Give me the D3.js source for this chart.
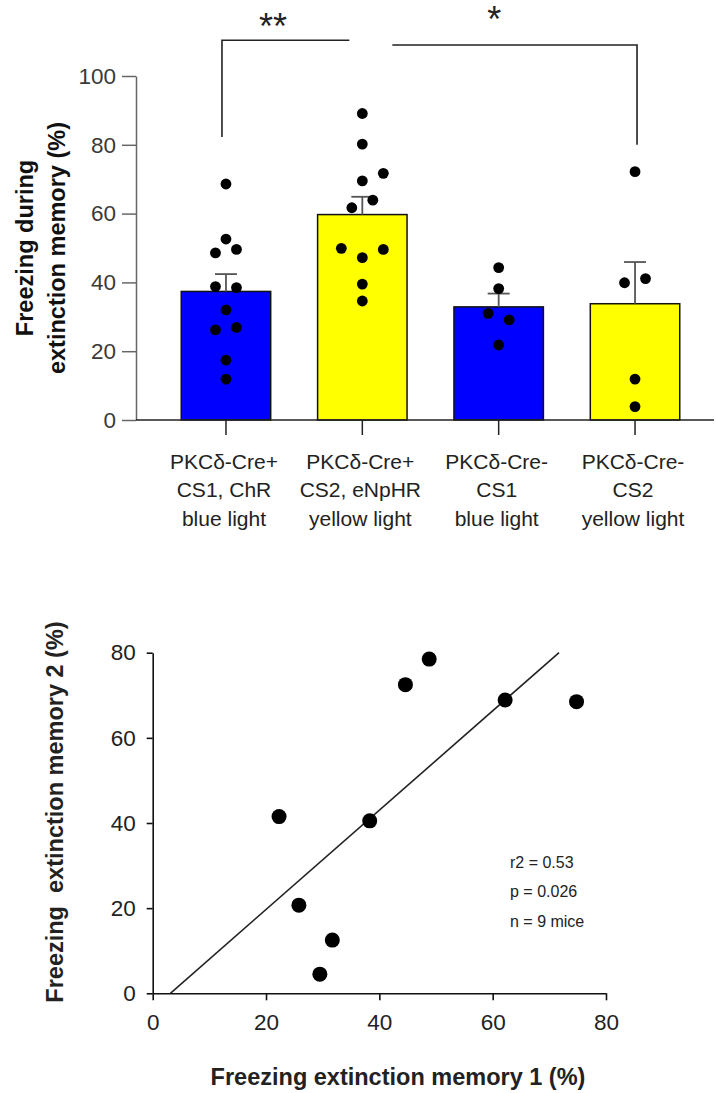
<!DOCTYPE html>
<html>
<head>
<meta charset="utf-8">
<script src="https://cdn.jsdelivr.net/npm/d3@7"></script>
<style>
  body { margin: 0; background: #fff; }
  svg { display: block; font-family: "Liberation Sans", Arial, sans-serif; }
</style>
</head>
<body>
<svg id="chart" width="716" height="1093"></svg>
<script>
// ---- bar chart data ----
const groups = ['crePlusCS1', 'crePlusCS2', 'creMinusCS1', 'creMinusCS2'];
const groupLabels = [
  ['PKCδ-Cre+', 'CS1, ChR', 'blue light'],
  ['PKCδ-Cre+', 'CS2, eNpHR', 'yellow light'],
  ['PKCδ-Cre-', 'CS1', 'blue light'],
  ['PKCδ-Cre-', 'CS2', 'yellow light']
];
const groupColors = ['#0000ff', '#ffff00', '#0000ff', '#ffff00'];
// freezing per mouse (%)
const freezing = [
  [68.6, 52.6, 48.6, 49.6, 38.8, 38.5, 32.0, 26.2, 26.9, 17.4, 11.9],
  [89.1, 80.2, 69.5, 71.7, 61.7, 63.9, 49.9, 49.6, 47.2, 39.5, 34.6],
  [44.3, 38.2, 31.0, 29.1, 21.8],
  [72.2, 39.9, 41.1, 11.9, 3.9]
];
// dot column used to spread overlapping points
const jitterSlot = [
  [0, 0, -1, 1, -1, 1, 0, -1, 1, 0, 0],
  [0, 0, 0, 2, -1, 1, -2, 2, 0, 0, 0],
  [0, 0, -1, 1, 0],
  [0, -1, 1, 0, 0]
];
const barTicks = [0, 20, 40, 60, 80, 100];
const brackets = [
  { from: 0, to: 1, label: '**', top: 110.4, legFrom: 82.3, legTo: null, offFrom: -4, offTo: -13, at: 0.40, gap: 1 },
  { from: 1, to: 3, label: '*', top: 109, legFrom: null, legTo: 80, offFrom: 30, offTo: 2, at: 0.417, gap: 13 }
];

// ---- scatter data ----
const memory1 = [48.8, 44.6, 62.2, 74.8, 22.3, 38.3, 25.8, 31.7, 29.5];
const memory2 = [78.5, 72.5, 68.9, 68.5, 41.5, 40.5, 20.7, 12.5, 4.5];
const scatterTicks = [0, 20, 40, 60, 80];
const statLines = ['r2 = 0.53', 'p = 0.026', 'n = 9 mice'];

const svg = d3.select('#chart');

// ================= bar chart =================
const y = d3.scaleLinear().domain([0, 100]).range([420, 76]);
const x = d3.scaleBand().domain(groups).range([157.8, 703.2])
  .paddingInner(0.344).paddingOuter(0.172);
const cx = i => x(groups[i]) + x.bandwidth() / 2;

const stats = freezing.map((v, i) => ({
  i,
  mean: d3.mean(v),
  sem: d3.deviation(v) / Math.sqrt(v.length)
}));

const bar = svg.append('g');

bar.selectAll('rect.bar').data(stats).join('rect')
  .attr('class', 'bar')
  .attr('x', d => x(groups[d.i]))
  .attr('width', x.bandwidth())
  .attr('y', d => y(d.mean))
  .attr('height', d => y(0) - y(d.mean))
  .attr('fill', d => groupColors[d.i])
  .attr('stroke', '#111')
  .attr('stroke-width', 1.5);

// SEM (upper only)
const err = bar.selectAll('g.err').data(stats).join('g').attr('class', 'err')
  .attr('stroke', '#555').attr('stroke-width', 1.8);
err.append('line')
  .attr('x1', d => cx(d.i)).attr('x2', d => cx(d.i))
  .attr('y1', d => y(d.mean)).attr('y2', d => y(d.mean + d.sem));
err.append('line')
  .attr('x1', d => cx(d.i) - 11).attr('x2', d => cx(d.i) + 11)
  .attr('y1', d => y(d.mean + d.sem)).attr('y2', d => y(d.mean + d.sem));

// individual mice
const dots = freezing.flatMap((v, i) => v.map((val, k) => ({ i, val, slot: jitterSlot[i][k] })));
bar.selectAll('circle.dot').data(dots).join('circle')
  .attr('class', 'dot')
  .attr('cx', d => cx(d.i) + d.slot * 10.5)
  .attr('cy', d => y(d.val))
  .attr('r', 5.4)
  .attr('fill', '#000');

// y axis
const yAxis = bar.append('g').attr('transform', 'translate(136,0)')
  .call(d3.axisLeft(y).tickValues(barTicks).tickSize(14).tickSizeOuter(0).tickPadding(6));
yAxis.select('.domain').attr('stroke', '#666').attr('stroke-width', 1.5);
yAxis.selectAll('.tick line').attr('stroke', '#666').attr('stroke-width', 1.5);
yAxis.selectAll('.tick text').attr('font-size', 22.5).attr('fill', '#3a3a3a')
  .attr('font-family', '"Liberation Sans", Arial, sans-serif');

// x axis
bar.append('line')
  .attr('x1', 136).attr('x2', 714)
  .attr('y1', y(0)).attr('y2', y(0))
  .attr('stroke', '#222').attr('stroke-width', 1.5);
bar.selectAll('line.xtick').data(groups).join('line')
  .attr('class', 'xtick')
  .attr('x1', (g, i) => cx(i)).attr('x2', (g, i) => cx(i))
  .attr('y1', y(0)).attr('y2', y(0) + 15)
  .attr('stroke', '#222').attr('stroke-width', 1.5);

// category labels
const cat = bar.selectAll('text.cat').data(groupLabels).join('text')
  .attr('class', 'cat')
  .attr('text-anchor', 'middle')
  .attr('font-size', 21)
  .attr('fill', '#222');
cat.selectAll('tspan').data((lines, i) => lines.map((t, k) => ({ t, k, i }))).join('tspan')
  .attr('x', d => cx(d.i) - 2)
  .attr('y', d => y(0) + 49 + d.k * 28.3)
  .text(d => d.t);

// y title
const yTitle = ['Freezing during', 'extinction memory (%)'];
bar.selectAll('text.ytitle').data(yTitle).join('text')
  .attr('class', 'ytitle')
  .attr('transform', (t, k) => `translate(${25 + k * 31.5},${(y(0) + y(100)) / 2}) rotate(-90)`)
  .attr('text-anchor', 'middle')
  .attr('dominant-baseline', 'central')
  .attr('font-size', 23.5)
  .attr('font-weight', 'bold')
  .attr('fill', '#111')
  .text(t => t);

// significance brackets
const br = bar.selectAll('g.bracket').data(brackets).join('g').attr('class', 'bracket');
br.append('path')
  .attr('fill', 'none').attr('stroke', '#222').attr('stroke-width', 1.6)
  .attr('d', b => {
    const x1 = cx(b.from) + b.offFrom, x2 = cx(b.to) + b.offTo;
    const p = d3.path();
    if (b.legFrom !== null) { p.moveTo(x1, y(b.legFrom)); p.lineTo(x1, y(b.top)); }
    else p.moveTo(x1, y(b.top));
    p.lineTo(x2, y(b.top));
    if (b.legTo !== null) p.lineTo(x2, y(b.legTo));
    return p.toString();
  });
br.append('text')
  .attr('x', b => {
    const x1 = cx(b.from) + b.offFrom, x2 = cx(b.to) + b.offTo;
    return x1 + (x2 - x1) * b.at;
  })
  .attr('y', b => y(b.top) - b.gap)
  .attr('text-anchor', 'middle')
  .attr('font-size', 36)
  .attr('fill', '#222')
  .text(b => b.label);

// ================= scatter =================
const xs = d3.scaleLinear().domain([0, 80]).range([152.7, 606]);
const ys = d3.scaleLinear().domain([0, 80]).range([993.3, 652.7]);
const sc = svg.append('g');

const sxAxis = sc.append('g').attr('transform', `translate(0,${ys(0)})`)
  .call(d3.axisBottom(xs).tickValues(scatterTicks).tickSize(7).tickSizeOuter(0).tickPadding(14));
const syAxis = sc.append('g').attr('transform', `translate(${xs(0)},0)`)
  .call(d3.axisLeft(ys).tickValues(scatterTicks).tickSize(6).tickSizeOuter(0).tickPadding(11));
[sxAxis, syAxis].forEach(a => {
  a.select('.domain').attr('stroke', '#111').attr('stroke-width', 1.6);
  a.selectAll('.tick line').attr('stroke', '#111').attr('stroke-width', 1.6);
  a.selectAll('.tick text').attr('font-size', 22.5).attr('fill', '#222')
    .attr('font-family', '"Liberation Sans", Arial, sans-serif');
});

// least squares fit
const pts = memory1.map((m, i) => ({ a: m, b: memory2[i] }));
const ma = d3.mean(memory1), mb = d3.mean(memory2);
const slope = d3.sum(pts, p => (p.a - ma) * (p.b - mb)) / d3.sum(pts, p => (p.a - ma) ** 2);
const icpt = mb - slope * ma;
const fitY = [0, 80];
sc.append('line')
  .attr('x1', xs((fitY[0] - icpt) / slope)).attr('y1', ys(fitY[0]))
  .attr('x2', xs((fitY[1] - icpt) / slope)).attr('y2', ys(fitY[1]))
  .attr('stroke', '#222').attr('stroke-width', 1.6);

sc.selectAll('circle').data(pts).join('circle')
  .attr('cx', p => xs(p.a)).attr('cy', p => ys(p.b))
  .attr('r', 7.5).attr('fill', '#000');

sc.selectAll('text.stat').data(statLines).join('text')
  .attr('class', 'stat')
  .attr('x', 510)
  .attr('y', (t, k) => 862 + k * 29.5)
  .attr('dominant-baseline', 'central')
  .attr('font-size', 16)
  .attr('fill', '#222')
  .text(t => t);

sc.append('text')
  .attr('x', 398).attr('y', 1085)
  .attr('text-anchor', 'middle')
  .attr('font-size', 23.5).attr('font-weight', 'bold').attr('fill', '#222')
  .text('Freezing extinction memory 1 (%)');

sc.append('text')
  .attr('transform', `translate(55,812) rotate(-90)`)
  .attr('text-anchor', 'middle')
  .attr('dominant-baseline', 'central')
  .attr('font-size', 23.5).attr('font-weight', 'bold').attr('fill', '#222')
  .attr('xml:space', 'preserve')
  .style('white-space', 'pre')
  .text('Freezing  extinction memory 2 (%)');
</script>
</body>
</html>
